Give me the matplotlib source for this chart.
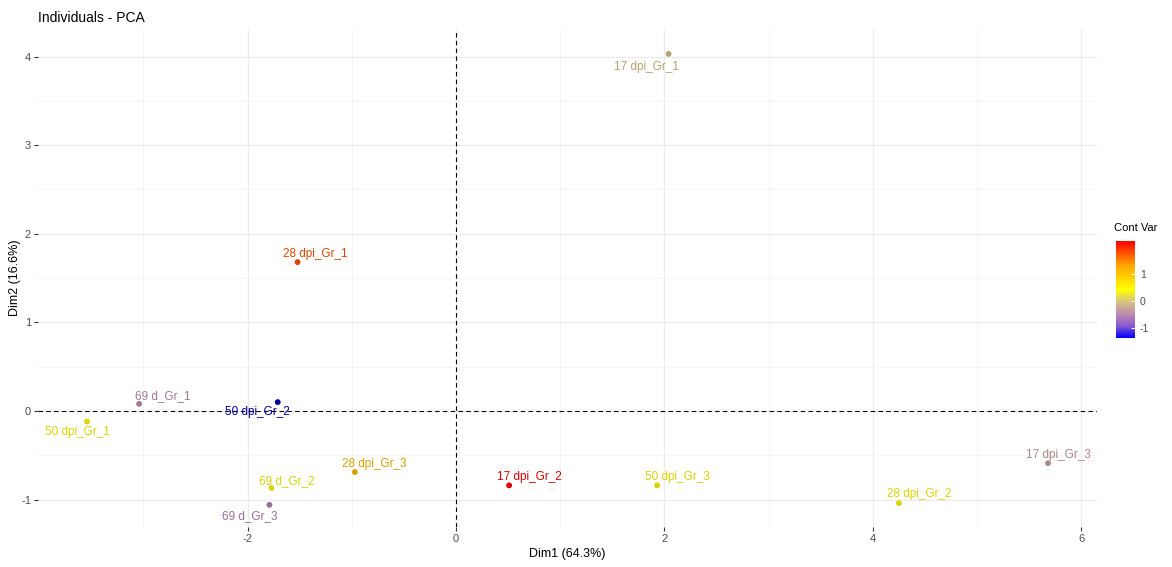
import numpy as np
import matplotlib
matplotlib.use("Agg")
import matplotlib.pyplot as plt
from matplotlib.colors import LinearSegmentedColormap, Normalize, to_rgb
from matplotlib.cm import ScalarMappable

plt.rcParams["font.family"] = ["Liberation Sans", "DejaVu Sans"]
plt.rcParams["axes.unicode_minus"] = False

# PCA coordinates
names = ["17 dpi_Gr_1", "28 dpi_Gr_1", "69 d_Gr_1", "50 dpi_Gr_1", "50 dpi_Gr_2", "28 dpi_Gr_3",
         "69 d_Gr_2", "69 d_Gr_3", "17 dpi_Gr_2", "50 dpi_Gr_3", "28 dpi_Gr_2", "17 dpi_Gr_3"]
dim1 = [2.04, -1.52, -3.04, -3.54, -1.71, -0.97, -1.77, -1.79, 0.51, 1.93, 4.25, 5.68]
dim2 = [4.03, 1.68, 0.08, -0.12, 0.10, -0.69, -0.87, -1.06, -0.84, -0.84, -1.04, -0.59]
cont_var = [-0.05, 1.75, -0.45, 0.45, -1.35, 1.05, 0.4, -0.55, 2.2, 0.5, 0.45, -0.3]

# label offsets in pixels (dx, dy), as ggrepel placed them
label_off = [(-22, -13), (18, 8), (24, 8), (-10, -10), (-20, -10), (19, 8),
             (15, 7), (-20, -11), (20, 8), (20, 8), (20, 9), (10, 8)]

cmap = LinearSegmentedColormap.from_list(
    "bgr", [(0.0, "#0000ff"), (0.125, "#8a5ad0"), (0.25, "#be8caf"), (0.375, "#d8c480"),
            (0.5, "#ffff00"), (0.75, "#ffa500"), (1.0, "#ff0000")])
norm = Normalize(vmin=-1.35, vmax=2.2)


def shade(v, f=0.85):
    r, g, b = to_rgb(cmap(norm(v)))
    if v < -1.2:
        f = 0.6
    return (r * f, g * f, b * f)


W, H = 1172, 567
fig = plt.figure(figsize=(W / 100, H / 100), dpi=100)
ax = fig.add_axes([38 / W, 1 - 527 / H, (1097 - 38) / W, (527 - 30) / H])

ax.set_xlim(-4.01, 6.15)
ax.set_ylim(-1.31, 4.3)
ax.set_xticks([-2, 0, 2, 4, 6])
ax.set_xticks([-3, -1, 1, 3, 5], minor=True)
ax.set_yticks([-1, 0, 1, 2, 3, 4])
ax.set_yticks(np.arange(-0.5, 4.3, 1.0), minor=True)
ax.grid(which="major", color="#ebebeb", linewidth=0.9)
ax.grid(which="minor", color="#f2f2f2", linewidth=0.5)
ax.set_axisbelow(True)
for s in ax.spines.values():
    s.set_visible(False)
ax.tick_params(which="major", length=3, color="#333333", labelsize=8, labelcolor="#4d4d4d", pad=2)
ax.tick_params(which="minor", length=0)

ax.axhline(0, color="black", linestyle=(0, (4, 3)), linewidth=0.8)
ax.axvline(0, color="black", linestyle=(0, (4, 3)), linewidth=0.8)

colors = [shade(v) for v in cont_var]
ax.scatter(dim1, dim2, c=colors, s=10, zorder=3)
for n, x, y, c, (dx, dy) in zip(names, dim1, dim2, colors, label_off):
    ax.annotate(n, (x, y), xytext=(dx, dy), textcoords="offset pixels",
                ha="center", va="center", color=c, fontsize=8.5, zorder=4)

ax.set_xlabel("Dim1 (64.3%)", fontsize=9, labelpad=3)
fig.text(15 / W, 1 - 278 / H, "Dim2 (16.6%)", fontsize=9, rotation=90, va="center", ha="center")
fig.text(38 / W, 1 - 18 / H, "Individuals - PCA", fontsize=10, va="center", ha="left")

# colour bar
cax = fig.add_axes([1116 / W, 1 - 338 / H, 19 / W, 97 / H])
cb = fig.colorbar(ScalarMappable(norm=norm, cmap=cmap), cax=cax, ticks=[-1, 0, 1])
cb.outline.set_visible(False)
cax.tick_params(length=3, color="white", labelsize=7.5, labelcolor="#4d4d4d", direction="in")
fig.text(1114 / W, 1 - 228 / H, "Cont Var", fontsize=8, va="center", ha="left")

fig.savefig("out.png", dpi=100)
